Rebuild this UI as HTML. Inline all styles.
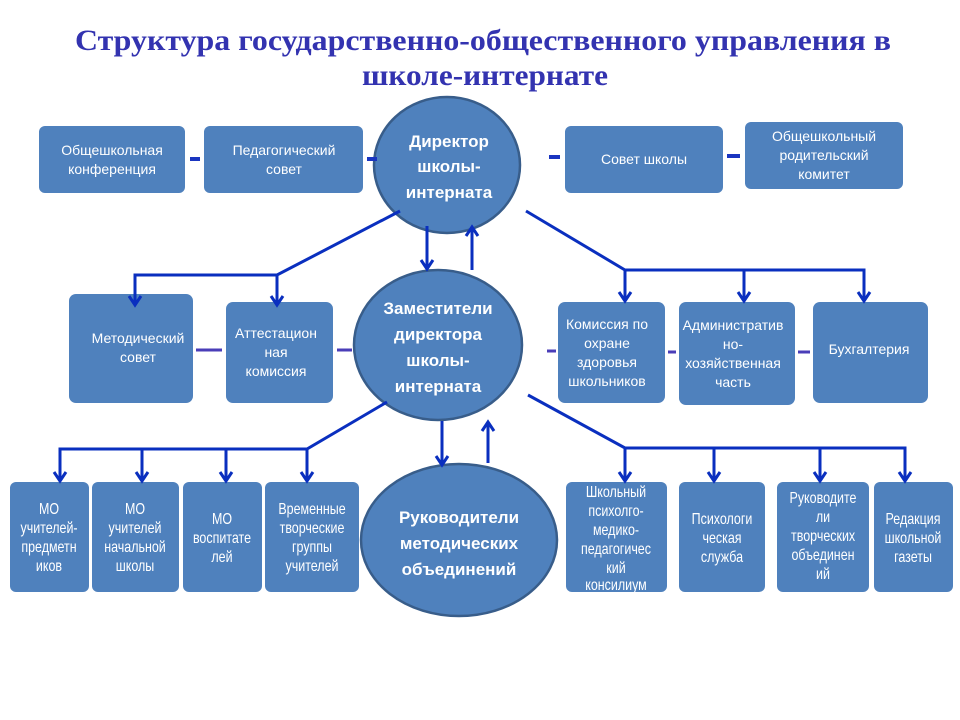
<!DOCTYPE html>
<html><head><meta charset="utf-8"><style>
html,body{margin:0;padding:0;background:#fff;}
svg{display:block;}
.t{font-family:"Liberation Sans",sans-serif;fill:#fff;font-size:14px;text-anchor:middle;}
.n{font-family:"Liberation Sans",sans-serif;fill:#fff;font-size:16px;text-anchor:middle;transform-box:fill-box;transform-origin:center;transform:scaleX(0.78);}
.b{font-family:"Liberation Sans",sans-serif;fill:#fff;font-size:17px;font-weight:bold;text-anchor:middle;}
</style></head><body>
<svg width="960" height="720" viewBox="0 0 960 720" xmlns="http://www.w3.org/2000/svg">
<g font-family="Liberation Serif,serif" font-weight="bold" font-size="30" fill="#3333b0" text-anchor="middle">
<text x="483" y="50" textLength="816" lengthAdjust="spacingAndGlyphs">Структура  государственно-общественного управления в</text>
<text x="485" y="85" textLength="246" lengthAdjust="spacingAndGlyphs">школе-интернате</text></g>
<g fill="#4f81bd">
<rect x="39" y="126" width="146" height="67" rx="6"/><rect x="204" y="126" width="159" height="67" rx="6"/>
<rect x="565" y="126" width="158" height="67" rx="6"/><rect x="745" y="122" width="158" height="67" rx="6"/>
<rect x="69" y="294" width="124" height="109" rx="7"/><rect x="226" y="302" width="107" height="101" rx="7"/>
<rect x="558" y="302" width="107" height="101" rx="7"/><rect x="679" y="302" width="116" height="103" rx="7"/><rect x="813" y="302" width="115" height="101" rx="7"/>
<rect x="10" y="482" width="79" height="110" rx="6"/><rect x="92" y="482" width="87" height="110" rx="6"/><rect x="183" y="482" width="79" height="110" rx="6"/><rect x="265" y="482" width="94" height="110" rx="6"/>
<rect x="566" y="482" width="101" height="110" rx="6"/><rect x="679" y="482" width="86" height="110" rx="6"/><rect x="777" y="482" width="92" height="110" rx="6"/><rect x="874" y="482" width="79" height="110" rx="6"/>
</g>
<g stroke="#385d8a" stroke-width="2.5" fill="#4f81bd">
<ellipse cx="447" cy="165" rx="73" ry="68"/>
<ellipse cx="438" cy="345" rx="84" ry="75"/>
<ellipse cx="459" cy="540" rx="98" ry="76"/>
</g>
<g stroke="#1a35c0" stroke-width="4"><path d="M190 159H200M367 159H377M549 157H560M727 156H740"/></g>
<g stroke="#4a3db8" stroke-width="3"><path d="M196 350H222M337 350H352M547 351H556M668 352H676M798 352H810"/></g>
<g stroke="#0a2fbf" stroke-width="3" fill="none">
<path d="M400 211L277 275H135V303M277 275V303"/>
<path d="M526 211L625 270H864V299M625 270V299M744 270V299"/>
<path d="M427 226V267M472 270V229"/>
<path d="M387 402L307 449H60V479M142 449V479M226 449V479M307 449V479"/>
<path d="M528 395L625 448H905V479M625 448V479M714 448V479M820 448V479"/>
<path d="M442 421V463M488 463V424"/>
</g>
<g stroke="#0a2fbf" stroke-width="3" fill="none" stroke-linejoin="miter">
<path d="M129 296L135 305L141 296M271 296L277 305L283 296"/>
<path d="M619 292L625 301L631 292M738 292L744 301L750 292M858 292L864 301L870 292"/>
<path d="M421 260L427 269L433 260M466 236L472 227L478 236"/>
<path d="M54 472L60 481L66 472M136 472L142 481L148 472M220 472L226 481L232 472M301 472L307 481L313 472"/>
<path d="M619 472L625 481L631 472M708 472L714 481L720 472M814 472L820 481L826 472M899 472L905 481L911 472"/>
<path d="M436 456L442 465L448 456M482 431L488 422L494 431"/>
</g>
<text class="t" x="112" y="155">Общешкольная</text><text class="t" x="112" y="174">конференция</text>
<text class="t" x="284" y="155">Педагогический</text><text class="t" x="284" y="174">совет</text>
<text class="t" x="644" y="164">Совет школы</text>
<text class="t" x="824" y="141">Общешкольный</text><text class="t" x="824" y="160">родительский</text><text class="t" x="824" y="179">комитет</text>
<text class="b" x="449" y="147">Директор</text><text class="b" x="449" y="172">школы-</text><text class="b" x="449" y="198">интерната</text>
<text class="b" x="438" y="314">Заместители</text><text class="b" x="438" y="340">директора</text><text class="b" x="438" y="366">школы-</text><text class="b" x="438" y="392">интерната</text>
<text class="t" x="138" y="343">Методический</text><text class="t" x="138" y="362">совет</text>
<text class="t" x="276" y="338">Аттестацион</text><text class="t" x="276" y="357">ная</text><text class="t" x="276" y="376">комиссия</text>
<text class="t" x="607" y="329">Комиссия  по</text><text class="t" x="607" y="348">охране</text><text class="t" x="607" y="367">здоровья</text><text class="t" x="607" y="386">школьников</text>
<text class="t" x="733" y="330">Административ</text><text class="t" x="733" y="349">но-</text><text class="t" x="733" y="368">хозяйственная</text><text class="t" x="733" y="387">часть</text>
<text class="t" x="869" y="354">Бухгалтерия</text>
<text class="n" x="49" y="514">МО</text><text class="n" x="49" y="533">учителей-</text><text class="n" x="49" y="552">предметн</text><text class="n" x="49" y="571">иков</text>
<text class="n" x="135" y="514">МО</text><text class="n" x="135" y="533">учителей</text><text class="n" x="135" y="552">начальной</text><text class="n" x="135" y="571">школы</text>
<text class="n" x="222" y="524">МО</text><text class="n" x="222" y="543">воспитате</text><text class="n" x="222" y="562">лей</text>
<text class="n" x="312" y="514">Временные</text><text class="n" x="312" y="533">творческие</text><text class="n" x="312" y="552">группы</text><text class="n" x="312" y="571">учителей</text>
<text class="b" x="459" y="523">Руководители</text><text class="b" x="459" y="549">методических</text><text class="b" x="459" y="575">объединений</text>
<text class="n" x="616" y="497">Школьный</text><text class="n" x="616" y="516">психолго-</text><text class="n" x="616" y="535">медико-</text><text class="n" x="616" y="554">педагогичес</text><text class="n" x="616" y="573">кий</text><text class="n" x="616" y="590">консилиум</text>
<text class="n" x="722" y="524">Психологи</text><text class="n" x="722" y="543">ческая</text><text class="n" x="722" y="562">служба</text>
<text class="n" x="823" y="503">Руководите</text><text class="n" x="823" y="522">ли</text><text class="n" x="823" y="541">творческих</text><text class="n" x="823" y="560">объединен</text><text class="n" x="823" y="579">ий</text>
<text class="n" x="913" y="524">Редакция</text><text class="n" x="913" y="543">школьной</text><text class="n" x="913" y="562">газеты</text>
</svg>
</body></html>
